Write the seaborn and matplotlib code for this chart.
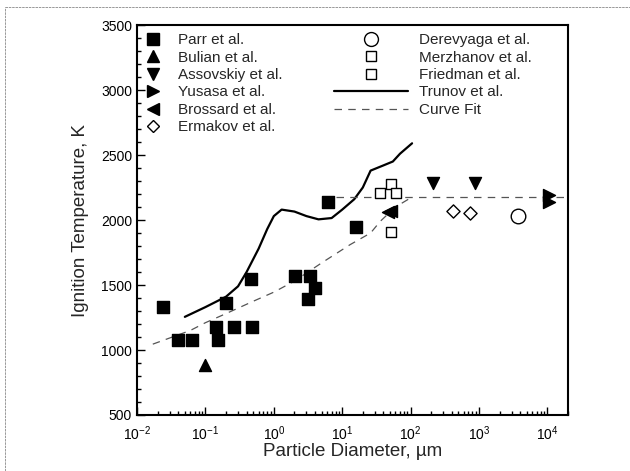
import matplotlib
matplotlib.use("Agg")
import matplotlib.pyplot as plt
import numpy as np
import pandas as pd
import seaborn as sns
from matplotlib.lines import Line2D
from matplotlib.ticker import LogLocator, MultipleLocator, NullFormatter

# measured ignition temperatures (diameter in um, temperature in K)
parr_d = [0.024, 0.040, 0.063, 0.144, 0.151, 0.20, 0.266, 0.46, 0.478,
          2.06, 3.11, 3.33, 4.04, 6.3, 15.9]
parr_t = [1330, 1080, 1080, 1180, 1077, 1365, 1180, 1545, 1180,
          1570, 1395, 1570, 1480, 2135, 1950]
bulian_d = [0.10]
bulian_t = [885]
assovskiy_d = [211, 860]
assovskiy_t = [2282, 2282]
yusasa_d = [10500, 10500]
yusasa_t = [2190, 2140]
brossard_d = [46, 52]
brossard_t = [2062, 2068]
ermakov_d = [417, 735]
ermakov_t = [2071, 2056]
derevyaga_d = [3720]
derevyaga_t = [2033]
merzhanov_d = [35.6, 52.5, 61.6]
merzhanov_t = [2205, 2274, 2205]
friedman_d = [52.5]
friedman_t = [1910]

# Trunov et al. model curve
trunov_d = [0.05, 0.1, 0.2, 0.3, 0.4, 0.6, 0.8, 1.0, 1.3, 2.0, 3.0, 4.5,
            7.0, 10, 15, 20, 26, 40, 55, 70, 105]
trunov_t = [1255, 1330, 1410, 1490, 1600, 1780, 1930, 2030, 2080, 2065,
            2030, 2005, 2015, 2080, 2160, 2250, 2380, 2420, 2450, 2510, 2590]

# curve fit (rising branch and plateau)
fit_d = [0.017, 0.06, 0.1, 0.2, 0.5, 1.0, 2.0, 5.0, 13, 26, 36, 60, 100]
fit_t = [1045, 1150, 1210, 1280, 1375, 1445, 1530, 1670, 1810, 1900,
         1990, 2100, 2170]
plateau_d = [8, 20000]
plateau_t = [2175, 2175]

sns.set_style("white")
plt.rcParams["font.family"] = ["Liberation Sans", "DejaVu Sans"]

fig = plt.figure(figsize=(6.3, 4.71), dpi=100)
ax = fig.add_axes([0.2175, 0.1189, 0.6841, 0.828])
ax.set_xscale("log")

sns.lineplot(x=trunov_d, y=trunov_t, estimator=None, sort=False,
             color="black", linewidth=1.6, ax=ax)
sns.lineplot(x=fit_d, y=fit_t, estimator=None, sort=False,
             color="#555555", linewidth=0.9, linestyle=(0, (6, 5)), ax=ax)
sns.lineplot(x=plateau_d, y=plateau_t, estimator=None, sort=False,
             color="#555555", linewidth=0.9, linestyle=(0, (6, 5)), ax=ax)

series = [
    (parr_d, parr_t, "s", "black", 80),
    (bulian_d, bulian_t, "^", "black", 75),
    (assovskiy_d, assovskiy_t, "v", "black", 75),
    (yusasa_d, yusasa_t, ">", "black", 75),
    (brossard_d, brossard_t, "<", "black", 75),
    (ermakov_d, ermakov_t, "D", "white", 45),
    (derevyaga_d, derevyaga_t, "o", "white", 110),
    (merzhanov_d, merzhanov_t, "s", "white", 55),
    (friedman_d, friedman_t, "s", "white", 55),
]
for xs, ys, mk, fc, size in series:
    sns.scatterplot(x=xs, y=ys, marker=mk, s=size, color=fc,
                    edgecolor="black", linewidth=1.0, zorder=3, ax=ax)

ax.set_xlim(1e-2, 2e4)
ax.set_ylim(500, 3500)
ax.yaxis.set_major_locator(MultipleLocator(500))
ax.yaxis.set_minor_locator(MultipleLocator(100))
ax.xaxis.set_major_locator(LogLocator(base=10, numticks=20))
ax.xaxis.set_minor_locator(LogLocator(base=10, subs=np.arange(2, 10), numticks=20))
ax.xaxis.set_minor_formatter(NullFormatter())
ax.tick_params(which="both", direction="in", bottom=True, left=True,
               top=False, right=False, colors="black", labelsize=10, width=1.0)
ax.tick_params(which="major", length=6)
ax.tick_params(which="minor", length=3)
ax.tick_params(axis="x", which="major", pad=7)
for sp in ax.spines.values():
    sp.set_color("black")
    sp.set_linewidth(1.5)

ax.set_xlabel("Particle Diameter, µm", fontsize=13.5)
ax.set_ylabel("Ignition Temperature, K", fontsize=13.5)
ax.yaxis.set_label_coords(-0.111, 0.5)
ax.xaxis.set_label_coords(0.5, -0.072)

left_handles = [
    Line2D([], [], ls="none", marker="s", ms=8.5, mfc="black", mec="black", label="Parr et al."),
    Line2D([], [], ls="none", marker="^", ms=8.5, mfc="black", mec="black", label="Bulian et al."),
    Line2D([], [], ls="none", marker="v", ms=8.5, mfc="black", mec="black", label="Assovskiy et al."),
    Line2D([], [], ls="none", marker=">", ms=8.5, mfc="black", mec="black", label="Yusasa et al."),
    Line2D([], [], ls="none", marker="<", ms=8.5, mfc="black", mec="black", label="Brossard et al."),
    Line2D([], [], ls="none", marker="D", ms=6.5, mfc="white", mec="black", label="Ermakov et al."),
]
right_handles = [
    Line2D([], [], ls="none", marker="o", ms=10, mfc="white", mec="black", label="Derevyaga et al."),
    Line2D([], [], ls="none", marker="s", ms=7.5, mfc="white", mec="black", label="Merzhanov et al."),
    Line2D([], [], ls="none", marker="s", ms=7.5, mfc="white", mec="black", label="Friedman et al."),
    Line2D([], [], color="black", lw=1.6, label="Trunov et al."),
    Line2D([], [], color="#555555", lw=0.9, ls=(0, (6, 5)), label="Curve Fit"),
]
leg1 = ax.legend(handles=left_handles, loc="upper left", bbox_to_anchor=(0.0, 1.0),
                 frameon=False, fontsize=11, handlelength=1.0, handletextpad=1.1,
                 labelspacing=0.22, borderaxespad=0.25, borderpad=0.3)
ax.add_artist(leg1)
ax.legend(handles=right_handles, loc="upper left", bbox_to_anchor=(0.438, 1.0),
          frameon=False, fontsize=11, handlelength=4.8, handletextpad=0.75,
          labelspacing=0.22, borderaxespad=0.25, borderpad=0.3)

# faint scan border around the page
fig.add_artist(Line2D([5 / 630, 1.0], [1 - 7 / 471, 1 - 7 / 471], transform=fig.transFigure,
                      color="#888888", lw=0.6, ls=(0, (3, 1))))
fig.add_artist(Line2D([5 / 630, 5 / 630], [0.0, 1 - 7 / 471], transform=fig.transFigure,
                      color="#888888", lw=0.6, ls=(0, (3, 1))))

fig.savefig("out.png", dpi=100)
